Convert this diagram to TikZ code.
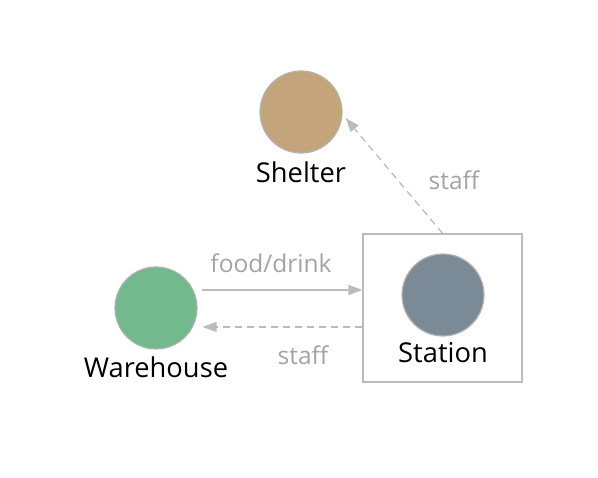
\documentclass[tikz,border=0pt]{standalone}
\usepackage{fontspec}
\setmainfont{Open Sans}
\usetikzlibrary{arrows.meta}
\definecolor{shelterfill}{HTML}{C4A57B}
\definecolor{housefill}{HTML}{72B98E}
\definecolor{stationfill}{HTML}{7A8B97}
\definecolor{rim}{HTML}{B3B3B3}
\definecolor{linkgray}{HTML}{BBBBBB}
\definecolor{labelgray}{HTML}{A3A3A3}
\begin{document}
\begin{tikzpicture}
			[x=1pt,y=-1pt,
			 site/.style={circle,draw=rim,line width=1.2pt,minimum size=82pt,inner sep=0pt},
			 caption/.style={font=\fontsize{27.3}{30}\selectfont,text=black},
			 tag/.style={font=\fontsize{24.5}{28}\selectfont,text=labelgray},
			 flow/.style={-{Triangle[length=14pt,width=10pt]},draw=linkgray,line width=1.3pt},
			 back/.style={flow,dash pattern=on 7pt off 5pt},
			 >=latex]
			\useasboundingbox (0,0) rectangle (598,478);
			\node[draw=linkgray,line width=1.3pt,minimum width=159pt,minimum height=148pt,name=box]at(442.5,308){};
			\node[site,fill=shelterfill,name=sh]at(301,112){};
			\node[site,fill=housefill,name=wh]at(156,308){};
			\node[site,fill=stationfill,name=st]at(443,295){};
			\node[caption,name=shl]at(301,172){Shelter};
			\node[caption,name=whl]at(156,367){Warehouse};
			\node[caption,name=stl]at(443,353){Station};
			\draw[flow]([yshift=18pt,xshift=4pt]wh.east) --([yshift=18pt]box.west);
			\draw[back]([yshift=-19pt]box.west) --([yshift=-19pt,xshift=5pt]wh.east);
			\draw[back](box.north) --([xshift=3pt,yshift=-6pt]sh.east);
			\node[tag,name=fd]at(271,263){food/drink};
			\node[tag,name=s1]at(303,355){staff};
			\node[tag,name=s2]at(454,180){staff};
		\end{tikzpicture}
\end{document}
